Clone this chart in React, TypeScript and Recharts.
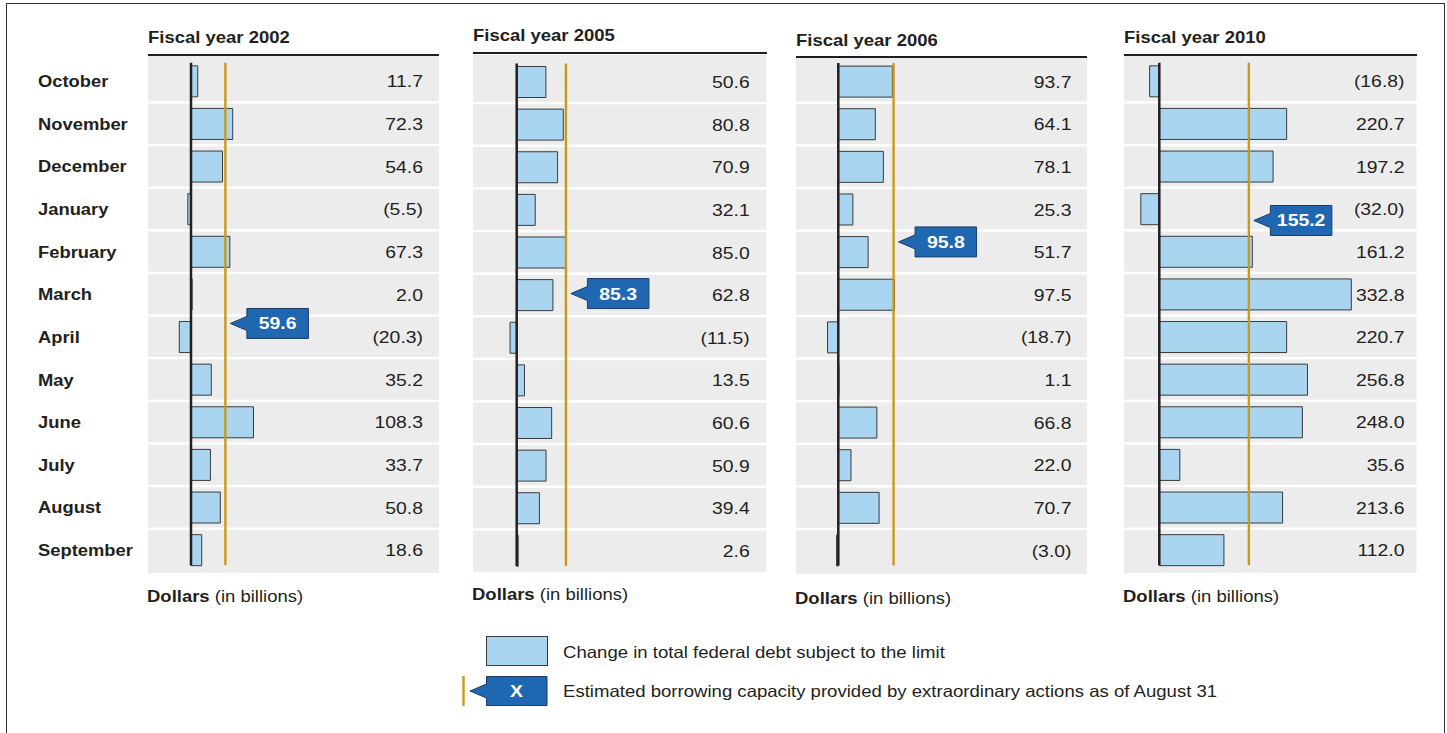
import { BarChart, Bar, XAxis, YAxis, ReferenceArea, ReferenceLine, ReferenceDot, LabelList } from 'recharts';

const months = [
  'October', 'November', 'December', 'January', 'February', 'March',
  'April', 'May', 'June', 'July', 'August', 'September',
];
const fiscalYears = ['Fiscal year 2002', 'Fiscal year 2005', 'Fiscal year 2006', 'Fiscal year 2010'];

// change in total federal debt subject to the limit, $ billions
const fy2002 = [11.7, 72.3, 54.6, -5.5, 67.3, 2.0, -20.3, 35.2, 108.3, 33.7, 50.8, 18.6];
const fy2005 = [50.6, 80.8, 70.9, 32.1, 85.0, 62.8, -11.5, 13.5, 60.6, 50.9, 39.4, 2.6];
const fy2006 = [93.7, 64.1, 78.1, 25.3, 51.7, 97.5, -18.7, 1.1, 66.8, 22.0, 70.7, -3.0];
const fy2010 = [-16.8, 220.7, 197.2, -32.0, 161.2, 332.8, 220.7, 256.8, 248.0, 35.6, 213.6, 112.0];

// estimated borrowing capacity from extraordinary actions as of August 31
const borrowingCapacity = [59.6, 85.3, 95.8, 155.2];
const calloutMonth = ['April', 'March', 'February', 'January'];

const series = [fy2002, fy2005, fy2006, fy2010];

const FONT = '"Liberation Sans", Arial, Helvetica, sans-serif';
const INK = '#231f20';
const STRETCH = 1.14;
const PX_PER_BILLION = 0.577;
const PLOT_TOP = 60;
const PLOT_BOTTOM = 571.5;

// panel geometry (page pixels)
const panels = [
  { left: 148, width: 291.3, zero: 43, lineY: 55, bottom: 573.3, titleY: 37, footY: 596, valueRight: 423, dy: -13.4 },
  { left: 473.3, width: 293.4, zero: 43.7, lineY: 53.3, bottom: 571.7, titleY: 35, footY: 594, valueRight: 750, dy: -1.4 },
  { left: 796, width: 291.3, zero: 42.3, lineY: 56.7, bottom: 574.3, titleY: 40, footY: 598, valueRight: 1071.5, dy: -10 },
  { left: 1124, width: 292.5, zero: 35.3, lineY: 55, bottom: 573.3, titleY: 37, footY: 596, valueRight: 1404.5, dy: 11.5 },
];

const fmt = (v: number) => (v < 0 ? `(${Math.abs(v).toFixed(1)})` : v.toFixed(1));

const HText = ({ x, y, size, bold, stretch = 1.12, children }: any) => (
  <div
    style={{
      position: 'absolute',
      left: x,
      top: y - size * 0.49,
      fontSize: size,
      lineHeight: `${size}px`,
      fontWeight: bold ? 'bold' : 'normal',
      whiteSpace: 'nowrap',
      transform: `scaleX(${stretch})`,
      transformOrigin: 'left center',
      color: INK,
    }}
  >
    {children}
  </div>
);

const Callout = ({ cx, cy, dy, value }: any) => {
  const tx = cx + 5;
  const ty = cy + dy;
  const bx = tx + 16.5;
  const bw = 61.5;
  return (
    <g>
      <path
        d={`M${tx},${ty} L${bx},${ty - 7} L${bx},${ty - 15} L${bx + bw},${ty - 15} L${bx + bw},${ty + 15} L${bx},${ty + 15} L${bx},${ty + 7} Z`}
        fill="#1f67b1"
        stroke="#1a3c66"
        strokeWidth={1}
      />
      <text
        transform={`translate(${bx + bw / 2},${ty + 6}) scale(${STRETCH},1)`}
        textAnchor="middle"
        fill="#fff"
        fontWeight="bold"
        fontSize={17}
        fontFamily={FONT}
      >
        {value}
      </text>
    </g>
  );
};

const Panel = ({ idx }: { idx: number }) => {
  const p = panels[idx];
  const data = months.map((m, i) => ({ month: m, value: series[idx][i] }));
  const showMonths = idx === 0;
  const axisW = showMonths ? 118 : 0;
  const chartLeft = p.left - axisW;
  const chartTop = p.lineY + 1.2;
  const chartW = axisW + p.width;
  const chartH = p.bottom - chartTop;
  const domain = [-p.zero / PX_PER_BILLION, (p.width - p.zero) / PX_PER_BILLION];
  const valueX = p.valueRight - chartLeft;
  const plotTop = PLOT_TOP - chartTop;
  const plotBottom = PLOT_BOTTOM - chartTop;

  const rowShape = (i: number) => (r: any) => {
    const y0 = i === 0 ? 0 : r.y + 1.2;
    const y1 = i === months.length - 1 ? chartH : r.y + r.height - 1.2;
    return <rect x={r.x} y={y0} width={r.width} height={y1 - y0} fill="#ececec" />;
  };

  const vline = (color: string, w: number) => (l: any) => (
    <line
      x1={l.x1}
      x2={l.x2}
      y1={Math.min(l.y1, l.y2) + 3}
      y2={Math.max(l.y1, l.y2) - 6}
      stroke={color}
      strokeWidth={w}
    />
  );

  const valueLabel = (props: any) => {
    const vb = props.viewBox || props;
    const cy = vb.y + vb.height / 2;
    return (
      <text
        transform={`translate(${valueX},${cy + 6.1}) scale(${STRETCH},1)`}
        textAnchor="end"
        fill={INK}
        fontSize={17}
        fontFamily={FONT}
      >
        {fmt(Number(props.value))}
      </text>
    );
  };

  const monthTick = (t: any) => (
    <text
      transform={`translate(${38 - chartLeft},${t.y + 6.1}) scale(1.08,1)`}
      textAnchor="start"
      fill={INK}
      fontSize={17}
      fontWeight="bold"
      fontFamily={FONT}
    >
      {t.payload.value}
    </text>
  );

  return (
    <>
      <HText x={p.left} y={p.titleY} size={16.5} bold>
        {fiscalYears[idx]}
      </HText>
      <div
        style={{
          position: 'absolute',
          left: p.left,
          top: p.lineY - 1.2,
          width: p.width,
          height: 2.4,
          background: INK,
        }}
      />
      <div style={{ position: 'absolute', left: chartLeft, top: chartTop }}>
        <BarChart
          width={chartW}
          height={chartH}
          data={data}
          layout="vertical"
          margin={{ top: plotTop, right: 0, bottom: chartH - plotBottom, left: 0 }}
          barCategoryGap={0}
        >
          <XAxis type="number" domain={domain} allowDataOverflow hide />
          <YAxis
            type="category"
            dataKey="month"
            hide={!showMonths}
            width={axisW}
            axisLine={false}
            tickLine={false}
            tick={monthTick}
            interval={0}
          />
          {months.map((m, i) => (
            <ReferenceArea key={m} y1={m} y2={m} shape={rowShape(i)} ifOverflow="visible" />
          ))}
          <Bar
            dataKey="value"
            fill="#a9d5f0"
            stroke="#3a3a3a"
            strokeWidth={1}
            barSize={31}
            isAnimationActive={false}
          >
            <LabelList dataKey="value" content={valueLabel} />
          </Bar>
          <ReferenceLine x={0} shape={vline(INK, 2.5)} />
          <ReferenceLine x={borrowingCapacity[idx]} shape={vline('#c9981f', 2.4)} />
          <ReferenceDot
            x={borrowingCapacity[idx]}
            y={calloutMonth[idx]}
            r={0}
            ifOverflow="visible"
            shape={(d: any) => <Callout cx={d.cx} cy={d.cy} dy={p.dy} value={borrowingCapacity[idx].toFixed(1)} />}
          />
        </BarChart>
      </div>
      <HText x={p.left - 1} y={p.footY} size={16.5}>
        <b>Dollars</b> (in billions)
      </HText>
    </>
  );
};

export default function App() {
  return (
    <div
      style={{
        position: 'absolute',
        left: 0,
        top: 0,
        width: 1447,
        height: 733,
        overflow: 'hidden',
        background: '#fff',
        fontFamily: FONT,
      }}
    >
      <div
        style={{
          position: 'absolute',
          left: 5.5,
          top: 2.5,
          width: 1437,
          height: 800,
          border: '1.5px solid #333',
        }}
      />
      {panels.map((_, i) => (
        <Panel key={i} idx={i} />
      ))}

      {/* legend */}
      <div
        style={{
          position: 'absolute',
          left: 486,
          top: 636,
          width: 60,
          height: 28,
          background: '#a9d5f0',
          border: '1px solid #3a3a3a',
        }}
      />
      <HText x={563} y={652} size={16.5} stretch={1.125}>
        Change in total federal debt subject to the limit
      </HText>
      <svg style={{ position: 'absolute', left: 455, top: 670 }} width={100} height={45}>
        <line x1={8.5} x2={8.5} y1={6} y2={36} stroke="#c9981f" strokeWidth={2.4} />
        <path
          d="M15,21 L31.5,14 L31.5,6.5 L92,6.5 L92,35.5 L31.5,35.5 L31.5,28 Z"
          fill="#1f67b1"
          stroke="#1a3c66"
          strokeWidth={1}
        />
        <text
          transform={`translate(61.5,27) scale(${STRETCH},1)`}
          textAnchor="middle"
          fill="#fff"
          fontWeight="bold"
          fontSize={17}
          fontFamily={FONT}
        >
          X
        </text>
      </svg>
      <HText x={563} y={691} size={16.5} stretch={1.125}>
        Estimated borrowing capacity provided by extraordinary actions as of August 31
      </HText>
    </div>
  );
}
